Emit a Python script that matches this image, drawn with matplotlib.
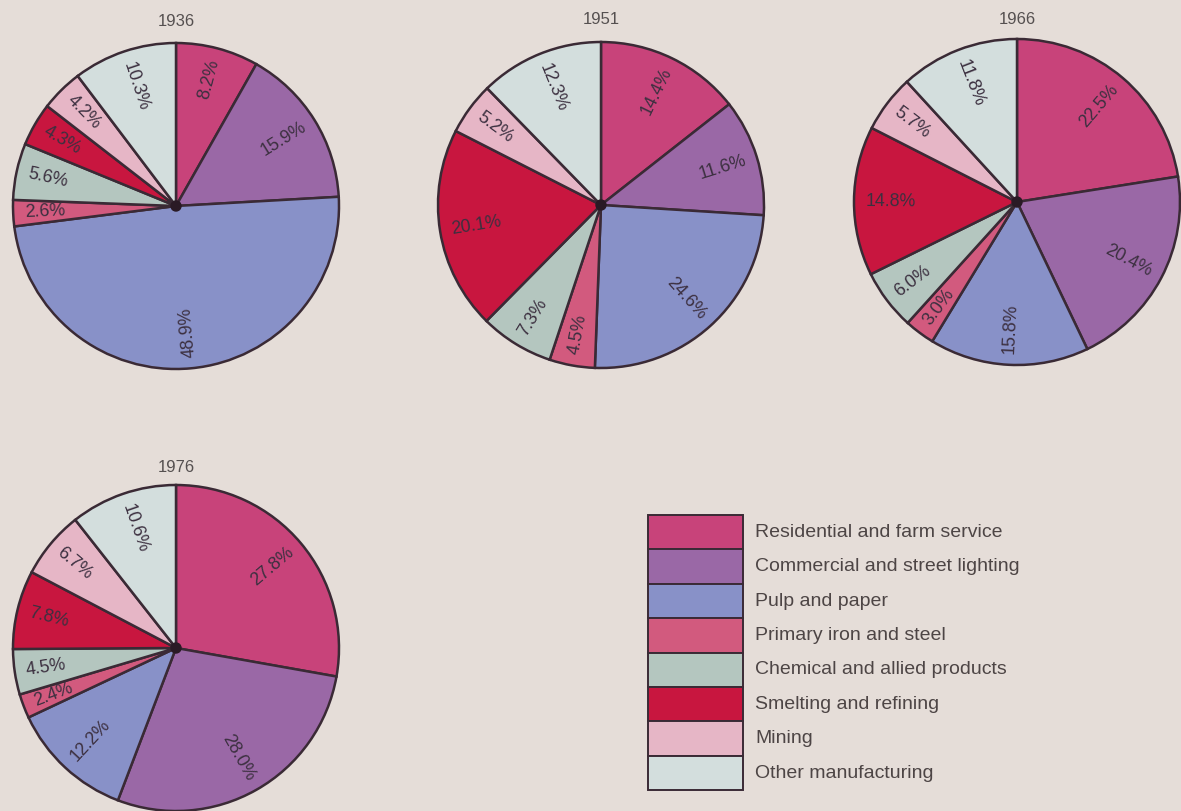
import matplotlib
matplotlib.use("Agg")
import matplotlib.pyplot as plt
from matplotlib.patches import Rectangle, Circle
import numpy as np

plt.rcParams['font.family'] = ['Liberation Sans', 'DejaVu Sans']

categories = ["Residential and farm service", "Commercial and street lighting",
              "Pulp and paper", "Primary iron and steel",
              "Chemical and allied products", "Smelting and refining",
              "Mining", "Other manufacturing"]
colors = ["#c8437a", "#9a68a6", "#8891c8", "#d25a7e",
          "#b4c6bf", "#c8163f", "#e6b6c6", "#d3dedd"]

years = ["1936", "1951", "1966", "1976"]
share_1936 = [8.2, 15.9, 48.9, 2.6, 5.6, 4.3, 4.2, 10.3]
share_1951 = [14.4, 11.6, 24.6, 4.5, 7.3, 20.1, 5.2, 12.3]
share_1966 = [22.5, 20.4, 15.8, 3.0, 6.0, 14.8, 5.7, 11.8]
share_1976 = [27.8, 28.0, 12.2, 2.4, 4.5, 7.8, 6.7, 10.6]

W, H = 1181, 811
bg = "#e5ddd8"
edge = "#3a2a35"
label_col = "#3c3040"
title_col = "#555050"
R = 163

fig = plt.figure(figsize=(W / 100, H / 100), dpi=100, facecolor=bg)
ax = fig.add_axes([0, 0, 1, 1])
ax.set_facecolor(bg)


def draw_pie(cx, cy, ty, year, vals):
    wedges, _ = ax.pie(vals, colors=colors, startangle=90, counterclock=False,
                       center=(cx, H - cy), radius=R, frame=True,
                       wedgeprops=dict(edgecolor=edge, linewidth=1.8))
    for w, v in zip(wedges, vals):
        mid = (w.theta1 + w.theta2) / 2
        mid = (mid + 180) % 360 - 180
        if -80 <= mid <= 90:
            rot, ha = mid, 'right'
        else:
            rot, ha = (mid + 180 + 180) % 360 - 180, 'left'
        a = np.radians(mid)
        x = cx + 0.93 * R * np.cos(a)
        y = H - cy + 0.93 * R * np.sin(a)
        ax.text(x, y, f"{v:.1f}%", rotation=rot, rotation_mode='anchor',
                ha=ha, va='center', fontsize=12.8, color=label_col)
    ax.add_patch(Circle((cx, H - cy), 5, color="#2a1a25", zorder=5))
    ax.text(cx, H - ty, year, ha='center', va='center', fontsize=12, color=title_col)


draw_pie(176, 206, 22, years[0], share_1936)
draw_pie(601, 205, 20, years[1], share_1951)
draw_pie(1017, 202, 20, years[2], share_1966)
draw_pie(176, 648, 467, years[3], share_1976)

# legend column of boxes
top, row_h = 515, 34.4
for i, (name, c) in enumerate(zip(categories, colors)):
    y0 = H - top - (i + 1) * row_h
    ax.add_patch(Rectangle((648, y0), 95, row_h, facecolor=c,
                           edgecolor=edge, linewidth=1.4))
    ax.text(755, y0 + row_h / 2, name, ha='left', va='center',
            fontsize=14, color="#4d4545")

ax.set_xlim(0, W)
ax.set_ylim(0, H)
ax.set_aspect('equal')
ax.axis('off')

fig.savefig("out.png", dpi=100, facecolor=bg)
